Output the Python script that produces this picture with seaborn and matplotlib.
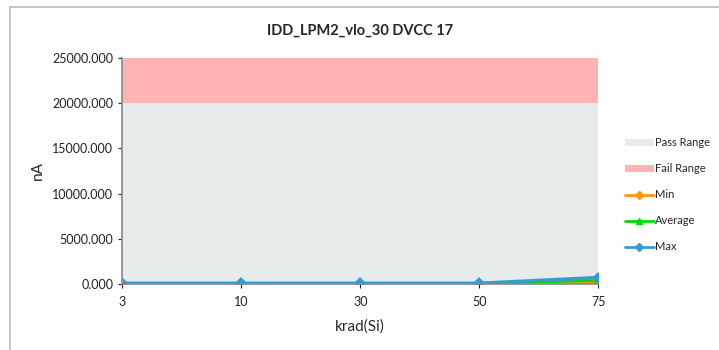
import numpy as np
import pandas as pd
import matplotlib
matplotlib.use("Agg")
import matplotlib.pyplot as plt
import seaborn as sns
from matplotlib.patches import Patch
from matplotlib.lines import Line2D

# data
krad = ["3", "10", "30", "50", "75"]
pass_upper = [20000, 20000, 20000, 20000, 20000]
fail_upper = [25000, 25000, 25000, 25000, 25000]
min_vals = [40, 40, 40, 40, 200]
avg_vals = [50, 50, 50, 50, 380]
max_vals = [60, 60, 60, 60, 700]

sns.set_style("white")
plt.rcParams['font.family'] = ['Lato', 'DejaVu Sans']

pos = np.arange(len(krad))
df = pd.DataFrame({"pos": pos, "Min": min_vals, "Average": avg_vals, "Max": max_vals})

fig = plt.figure(figsize=(7.19, 3.5), dpi=100)
ax = fig.add_axes([0.170, 0.189, 0.662, 0.645])

pass_col = '#E6ECEC'
fail_col = '#FFB3B3'
ax.fill_between(pos, 0, pass_upper, color=pass_col, lw=0)
ax.fill_between(pos, pass_upper, fail_upper, color=fail_col, lw=0)

sns.lineplot(data=df, x="pos", y="Min", ax=ax, color='#FF9900', marker='D', markersize=5,
             markeredgewidth=0, lw=2)
sns.lineplot(data=df, x="pos", y="Average", ax=ax, color='#00DD00', marker='^', markersize=6,
             markeredgewidth=0, lw=2)
sns.lineplot(data=df, x="pos", y="Max", ax=ax, color='#3A9AD0', marker='D', markersize=6,
             markeredgewidth=0, lw=2.5)

ax.set_xlim(0, len(krad) - 1)
ax.set_ylim(0, 25000)
ax.set_xticks(pos)
ax.set_xticklabels(krad)
ax.set_yticks(np.arange(0, 25001, 5000))
ax.set_yticklabels([f'{v:.3f}' for v in np.arange(0, 25001, 5000)])
ax.tick_params(axis='both', labelsize=9, colors='#222222', length=3, width=0.8,
               direction='out', left=True, bottom=True)
ax.tick_params(axis='x', pad=6)
for side in ['top', 'right']:
    ax.spines[side].set_visible(False)
for side in ['left', 'bottom']:
    ax.spines[side].set_color('#888888')
    ax.spines[side].set_linewidth(1.2)

ax.set_xlabel('krad(Si)', fontsize=11, labelpad=8)
ax.set_ylabel('nA', fontsize=11, labelpad=5)
ax.set_title('IDD_LPM2_vlo_30 DVCC 17', fontsize=10.5, fontweight='bold', pad=17)

handles = [
    Patch(facecolor=pass_col, edgecolor='none', label='Pass Range'),
    Patch(facecolor=fail_col, edgecolor='none', label='Fail Range'),
    Line2D([], [], color='#FF9900', marker='D', markersize=4, lw=2, label='Min'),
    Line2D([], [], color='#00DD00', marker='^', markersize=5, lw=2, label='Average'),
    Line2D([], [], color='#3A9AD0', marker='D', markersize=4, lw=2, label='Max'),
]
fig.legend(handles=handles, loc='center left', bbox_to_anchor=(0.855, 0.443), frameon=False,
           fontsize=8, handlelength=2.6, handletextpad=0.1, labelspacing=1.35)

# chart frame like the spreadsheet chart box
frame = plt.Rectangle((0.014, -0.02), 1.2, 1.0, transform=fig.transFigure, fill=False,
                      edgecolor='#BBBBBB', lw=1.2)
fig.add_artist(frame)

fig.savefig('out.png', dpi=100)
